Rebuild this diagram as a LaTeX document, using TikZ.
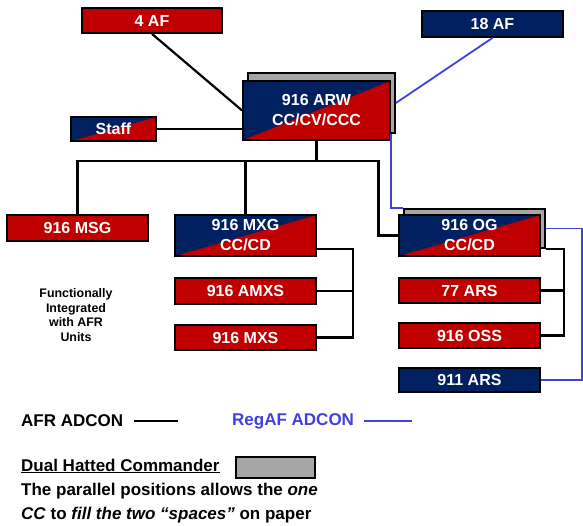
\documentclass[tikz,border=0pt]{standalone}
\usepackage{fontspec}
\setmainfont{Liberation Sans}
\usetikzlibrary{calc}

\definecolor{afred}{RGB}{192,0,0}
\definecolor{afnavy}{RGB}{0,32,96}
\definecolor{hatgray}{RGB}{166,166,166}
\definecolor{regblue}{RGB}{64,64,220}

\tikzset{
    unitbox/.style={draw=black, line width=1.8pt, text=white, inner sep=0pt,
        minimum width=141pt, minimum height=26pt, align=center,
        font=\bfseries\fontsize{16}{20}\selectfont},
    redunit/.style={unitbox, fill=afred},
    navyunit/.style={unitbox, fill=afnavy},
    splitunit/.style={unitbox, fill=afred,
        path picture={\fill[afnavy] (path picture bounding box.south west) --
            (path picture bounding box.north west) --
            (path picture bounding box.north east) -- cycle;}},
    hatbox/.style={draw=black, line width=1.8pt, fill=hatgray, inner sep=0pt},
    afr/.style={black, line width=2.2pt},
    regaf/.style={regblue, line width=1.8pt},
    keytext/.style={anchor=west, inner sep=0pt, font=\bfseries\fontsize{17}{24}\selectfont}
}

\begin{document}
\begin{tikzpicture}[x=1pt, y=-1pt]
    \useasboundingbox (0,0) rectangle (583,525);

    % Higher headquarters
    \node[redunit, minimum width=140pt, minimum height=25pt] (fouraf) at (152,20.5) {4 AF};
    \node[navyunit] (eighteenaf) at (492.5,24) {18 AF};

    % Wing with its second hat behind it
    \node[hatbox, minimum width=147pt, minimum height=60pt] (arwhat) at (321.5,103) {};
    \node[splitunit, minimum width=147pt, minimum height=59pt] (arw) at (316.5,110.5) {916 ARW\\CC/CV/CCC};
    \node[splitunit, minimum width=85pt, minimum height=24pt] (staff) at (113.5,129) {Staff};

    % Groups
    \node[redunit] (msg) at (77.5,228) {916 MSG};
    \node[splitunit, minimum height=41pt] (mxg) at (245.5,235.5) {916 MXG\\CC/CD};
    \node[hatbox, minimum width=141pt, minimum height=39pt] (oghat) at (474.5,228.5) {};
    \node[splitunit, minimum height=41pt] (og) at (469.5,235.5) {916 OG\\CC/CD};

    % Squadrons
    \node[redunit] (amxs) at (245.5,291) {916 AMXS};
    \node[redunit, minimum height=25pt] (mxs) at (245.5,337.5) {916 MXS};
    \node[redunit, minimum height=25pt] (ars77) at (469.5,290.5) {77 ARS};
    \node[redunit, minimum height=25pt] (oss) at (469.5,335.5) {916 OSS};
    \node[navyunit, minimum height=24pt] (ars911) at (469.5,380) {911 ARS};

    \node[align=center, font=\bfseries\fontsize{12.4}{14.6}\selectfont] (funcnote) at (76,315)
        {Functionally\\Integrated\\with AFR\\Units};

    % AFR ADCON lines
    \draw[afr] (fouraf.south) -- (arw.west);
    \draw[afr] (staff.east) -- (staff.east -| arw.west);
    \coordinate (bus) at ($(arw.south)+(0,20)$);
    \coordinate (ogdrop) at ($(bus)+(62,0)$);
    \draw[afr] (arw.south) -- (bus);
    \draw[afr] (msg.north) |- (ogdrop) |- (og.west);
    \draw[afr] (mxg.north) -- (mxg.north |- bus);

    \coordinate (mxgbar) at ($(mxs.east)+(36,0)$);
    \draw[afr] ([yshift=8pt]mxg.south east) -| (mxgbar) -- (mxs.east);
    \draw[afr] (amxs.east) -- (amxs.east -| mxgbar);

    \coordinate (ogbar) at ($(oss.east)+(23,0)$);
    \draw[afr] (oghat.south east) -| (ogbar) -- (oss.east);
    \draw[afr] (ars77.east) -- (ars77.east -| ogbar);

    % RegAF ADCON lines
    \draw[regaf] (eighteenaf.south) -- (arwhat.east);
    \draw[regaf] (arwhat.south -| arw.east) |- (oghat.north west);
    \coordinate (regturn) at (582,228.5);
    \draw[regaf] (oghat.east) -- (regturn) |- (ars911.east);

    % Legend
    \node[keytext] (afrkey) at (21,421) {AFR ADCON};
    \draw[afr] ([xshift=11pt]afrkey.east) -- ++(44,0);
    \node[keytext, text=regblue] (regkey) at (232,421) {RegAF ADCON};
    \draw[regaf] ([xshift=10pt]regkey.east) -- ++(48,0);

    \node[keytext] (dualkey) at (21,466) {\underline{Dual Hatted Commander}};
    \node[hatbox, line width=1.3pt, minimum width=79pt, minimum height=21pt] (dualbox) at (275.5,467.5) {};
    \node[keytext, align=left, anchor=north west] (dualnote) at (21,483)
        {The parallel positions allows the \textit{one}\\\textit{CC} to \textit{fill the two “spaces”} on paper};
\end{tikzpicture}
\end{document}
